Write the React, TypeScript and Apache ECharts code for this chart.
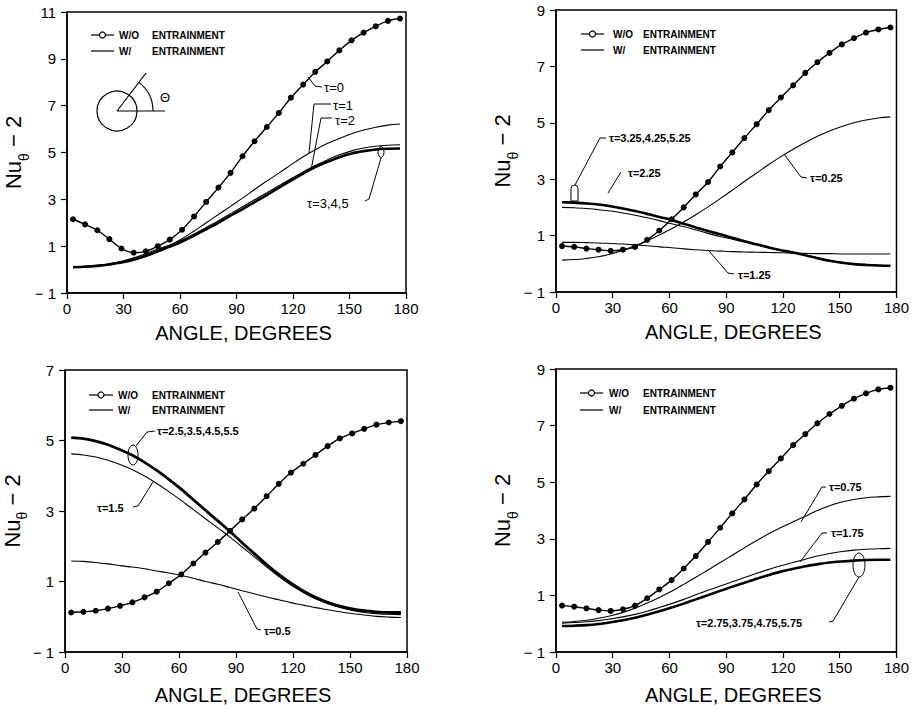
import React, { useEffect, useRef } from "react";
import * as echarts from "echarts";

// Angular positions (degrees) of the computed points
const ANGLES = [3.2, 9.6, 16.1, 22.5, 28.9, 35.4, 41.8, 48.2, 54.6, 61.1, 67.5, 73.9, 80.4, 86.8, 93.2, 99.6, 106.1, 112.5, 118.9, 125.4, 131.8, 138.2, 144.6, 151.1, 157.5, 163.9, 170.4, 176.8];
const X_TICKS_MIN = 0;
const X_TICKS_MAX = 180;
const X_TICK_STEP = 30;

// Panel A (top-left): tau = 0 .. 5
const A_WO = [2.15, 1.93, 1.68, 1.3, 0.9, 0.72, 0.78, 1.0, 1.28, 1.7, 2.27, 2.89, 3.5, 4.13, 4.84, 5.48, 6.09, 6.69, 7.34, 7.9, 8.44, 8.89, 9.36, 9.79, 10.12, 10.39, 10.62, 10.72];
const A_T1 = [0.12, 0.14, 0.18, 0.25, 0.35, 0.5, 0.68, 0.88, 1.05, 1.32, 1.65, 2.0, 2.35, 2.7, 3.05, 3.42, 3.78, 4.12, 4.47, 4.82, 5.12, 5.38, 5.6, 5.8, 5.96, 6.08, 6.17, 6.22];
const A_T2 = [0.11, 0.13, 0.17, 0.23, 0.32, 0.45, 0.62, 0.82, 1.03, 1.26, 1.52, 1.8, 2.09, 2.39, 2.68, 2.98, 3.28, 3.58, 3.88, 4.17, 4.44, 4.68, 4.9, 5.07, 5.19, 5.27, 5.31, 5.33];
const A_T345 = [0.1, 0.12, 0.16, 0.22, 0.3, 0.42, 0.58, 0.78, 0.98, 1.2, 1.45, 1.72, 2.0, 2.3, 2.58, 2.88, 3.18, 3.5, 3.8, 4.1, 4.38, 4.6, 4.8, 4.96, 5.06, 5.13, 5.16, 5.17];

// Panel B (top-right): tau = 0.25 .. 5.25
const B_WO = [0.63, 0.6, 0.54, 0.5, 0.46, 0.5, 0.6, 0.85, 1.18, 1.58, 2.0, 2.46, 2.9, 3.45, 3.95, 4.46, 4.95, 5.45, 5.9, 6.33, 6.77, 7.15, 7.48, 7.78, 8.0, 8.2, 8.31, 8.38];
const B_T025 = [0.13, 0.15, 0.19, 0.25, 0.35, 0.48, 0.64, 0.82, 1.02, 1.24, 1.48, 1.74, 2.02, 2.31, 2.61, 2.92, 3.22, 3.52, 3.8, 4.06, 4.3, 4.52, 4.71, 4.87, 5.0, 5.1, 5.17, 5.21];
const B_T125 = [0.76, 0.76, 0.75, 0.74, 0.72, 0.7, 0.67, 0.64, 0.6, 0.57, 0.53, 0.5, 0.47, 0.45, 0.43, 0.42, 0.41, 0.4, 0.39, 0.38, 0.37, 0.36, 0.36, 0.35, 0.35, 0.35, 0.35, 0.35];
const B_T225 = [2.0, 1.99, 1.96, 1.92, 1.87, 1.8, 1.72, 1.63, 1.53, 1.42, 1.32, 1.2, 1.08, 0.97, 0.87, 0.77, 0.67, 0.57, 0.47, 0.39, 0.3, 0.21, 0.12, 0.05, 0.0, -0.03, -0.05, -0.06];
const B_T325 = [2.18, 2.17, 2.14, 2.1, 2.04, 1.96, 1.87, 1.77, 1.66, 1.55, 1.42, 1.29, 1.16, 1.05, 0.92, 0.8, 0.69, 0.58, 0.48, 0.4, 0.3, 0.2, 0.11, 0.04, -0.01, -0.04, -0.06, -0.07];

// Panel C (bottom-left): tau = 0.5 .. 5.5
const C_WO = [0.12, 0.14, 0.17, 0.23, 0.31, 0.41, 0.55, 0.71, 0.95, 1.2, 1.51, 1.82, 2.12, 2.44, 2.76, 3.07, 3.42, 3.77, 4.09, 4.34, 4.59, 4.84, 5.06, 5.2, 5.33, 5.45, 5.51, 5.55];
const C_T05 = [1.58, 1.57, 1.54, 1.5, 1.45, 1.41, 1.36, 1.3, 1.24, 1.17, 1.09, 1.0, 0.92, 0.83, 0.74, 0.65, 0.56, 0.48, 0.4, 0.33, 0.26, 0.2, 0.14, 0.09, 0.05, 0.01, -0.01, -0.02];
const C_T15 = [4.62, 4.59, 4.53, 4.44, 4.32, 4.17, 3.99, 3.78, 3.55, 3.3, 3.04, 2.78, 2.52, 2.26, 1.98, 1.7, 1.41, 1.14, 0.9, 0.69, 0.51, 0.37, 0.26, 0.18, 0.12, 0.09, 0.07, 0.06];
const C_T25 = [5.08, 5.05, 4.98, 4.88, 4.74, 4.58, 4.38, 4.15, 3.9, 3.62, 3.32, 3.02, 2.72, 2.42, 2.1, 1.79, 1.48, 1.2, 0.95, 0.73, 0.55, 0.41, 0.3, 0.22, 0.17, 0.14, 0.12, 0.12];

// Panel D (bottom-right): tau = 0.75 .. 5.75
const D_WO = [0.64, 0.6, 0.54, 0.48, 0.45, 0.51, 0.64, 0.9, 1.21, 1.54, 1.95, 2.39, 2.89, 3.39, 3.9, 4.39, 4.92, 5.39, 5.84, 6.31, 6.7, 7.08, 7.41, 7.7, 7.95, 8.14, 8.28, 8.34];
const D_T075 = [0.05, 0.08, 0.12, 0.19, 0.28, 0.4, 0.55, 0.73, 0.93, 1.15, 1.39, 1.64, 1.9, 2.16, 2.42, 2.68, 2.94, 3.18, 3.4, 3.6, 3.8, 4.0, 4.17, 4.3, 4.39, 4.45, 4.48, 4.5];
const D_T175 = [0.02, 0.04, 0.07, 0.11, 0.17, 0.24, 0.33, 0.44, 0.57, 0.71, 0.86, 1.02, 1.18, 1.33, 1.48, 1.63, 1.78, 1.92, 2.05, 2.16, 2.28, 2.39, 2.48, 2.55, 2.6, 2.63, 2.65, 2.66];
const D_T275 = [-0.08, -0.07, -0.05, -0.01, 0.05, 0.12, 0.21, 0.32, 0.44, 0.57, 0.71, 0.86, 1.01, 1.16, 1.31, 1.45, 1.59, 1.72, 1.84, 1.94, 2.03, 2.1, 2.16, 2.2, 2.23, 2.25, 2.26, 2.26];

const Y_MAX = [11, 9, 7, 9];
const Y_MIN = -1;
const Y_STEP = 2;

const GRIDS = [
  { left: 67, top: 12, width: 339, height: 281 },
  { left: 556, top: 10, width: 343, height: 282 },
  { left: 65, top: 370, width: 342, height: 282 },
  { left: 556, top: 369, width: 343, height: 283 },
];
const X_NAME_GAP = [30, 30, 33, 33];

const FONT = "'Liberation Sans', Arial, sans-serif";
const BLACK = "#000";

function series(name: string, gi: number, values: number[], width: number, marker = false) {
  return {
    type: "line",
    name,
    xAxisIndex: gi,
    yAxisIndex: gi,
    data: ANGLES.map((a, i) => [a, values[i]]),
    smooth: 0.35,
    symbol: marker ? "circle" : "none",
    showSymbol: marker,
    symbolSize: 6,
    itemStyle: { color: BLACK },
    lineStyle: { color: BLACK, width },
    silent: true,
    z: marker ? 4 : 3,
  };
}

function txt(text: string, x: number, y: number, size = 10, bold = true, align = "left") {
  return {
    type: "text",
    x,
    y,
    z: 100,
    silent: true,
    style: {
      text,
      fill: BLACK,
      font: `${bold ? "bold " : ""}${size}px ${FONT}`,
      align,
      verticalAlign: "middle",
      textAlign: align,
      textVerticalAlign: "middle",
    },
  };
}
function poly(points: number[][], w = 1) {
  return { type: "polyline", z: 100, silent: true, shape: { points }, style: { stroke: BLACK, lineWidth: w, fill: "none" } };
}
function ell(cx: number, cy: number, rx: number, ry: number) {
  return { type: "ellipse", z: 100, silent: true, shape: { cx, cy, rx, ry }, style: { stroke: BLACK, lineWidth: 1, fill: "none" } };
}
function legend(x1: number, x2: number, y1: number, y2: number, tx1: number, tx2: number) {
  return [
    poly([[x1, y1], [x2, y1]], 1.2),
    { type: "circle", z: 101, silent: true, shape: { cx: (x1 + x2) / 2, cy: y1, r: 3 }, style: { fill: "#fff", stroke: BLACK, lineWidth: 1.2 } },
    txt("W/O", tx1, y1),
    txt("ENTRAINMENT", tx2, y1),
    poly([[x1, y2], [x2, y2]], 1.2),
    txt("W/", tx1, y2),
    txt("ENTRAINMENT", tx2, y2),
  ];
}

export default function App() {
  const ref = useRef<HTMLDivElement>(null);
  useEffect(() => {
    if (!ref.current) return;
    const chart = echarts.init(ref.current, undefined, { renderer: "svg" });

    const xAxes = GRIDS.map((_, i) => ({
      gridIndex: i,
      type: "value",
      min: X_TICKS_MIN,
      max: X_TICKS_MAX,
      interval: X_TICK_STEP,
      axisLine: { show: true, onZero: false, lineStyle: { color: BLACK, width: 1.5 } },
      axisTick: { show: true, inside: false, length: 6, lineStyle: { color: BLACK, width: 1.2 } },
      axisLabel: { color: BLACK, fontSize: 15, fontFamily: FONT, margin: 8 },
      splitLine: { show: false },
      name: "ANGLE, DEGREES",
      nameLocation: "middle",
      nameGap: X_NAME_GAP[i],
      nameTextStyle: { color: BLACK, fontSize: 20, fontFamily: FONT, padding: [0, 0, 0, 14] },
    }));
    const yAxes = GRIDS.map((_, i) => ({
      gridIndex: i,
      type: "value",
      min: Y_MIN,
      max: Y_MAX[i],
      interval: Y_STEP,
      axisLine: { show: true, onZero: false, lineStyle: { color: BLACK, width: 1.5 } },
      axisTick: { show: true, inside: false, length: 6, lineStyle: { color: BLACK, width: 1.2 } },
      axisLabel: {
        color: BLACK,
        fontSize: 15,
        fontFamily: FONT,
        margin: 11,
        formatter: (v: number) => (v < 0 ? "\u2212 " + Math.abs(v) : String(v)),
      },
      splitLine: { show: false },
      name: "{a|Nu}{b|\u03b8}{a| \u2212 2}",
      nameLocation: "middle",
      nameRotate: 90,
      nameGap: 36,
      nameTextStyle: {
        color: BLACK,
        rich: {
          a: { fontSize: 22, fontFamily: FONT, color: BLACK, verticalAlign: "bottom", lineHeight: 26 },
          b: { fontSize: 14, fontFamily: FONT, color: BLACK, verticalAlign: "bottom", lineHeight: 26, padding: [0, 0, -6, 0] },
        },
      },
    }));

    const graphics: any[] = [
      // Panel A
      ...legend(91, 114, 35, 51, 119, 152),
      { type: "circle", z: 100, silent: true, shape: { cx: 117, cy: 111, r: 20 }, style: { fill: "none", stroke: BLACK, lineWidth: 1.2 } },
      poly([[117, 111], [165, 111]], 1.2),
      poly([[117, 111], [146, 73]], 1.2),
      { type: "arc", z: 100, silent: true, shape: { cx: 117, cy: 111, r: 36, startAngle: -0.92, endAngle: 0, clockwise: true }, style: { stroke: BLACK, lineWidth: 1.2, fill: "none" } },
      txt("\u0398", 160, 97, 13, false),
      txt("\u03c4=0", 324, 87, 13, false),
      poly([[308, 77], [315, 86], [322, 87]]),
      txt("\u03c4=1", 333, 105, 13, false),
      poly([[331, 104], [314, 104], [309, 153]]),
      txt("\u03c4=2", 335, 120, 13, false),
      poly([[332, 118], [321, 118], [311, 170]]),
      txt("\u03c4=3,4,5", 307, 203, 13, false),
      poly([[365, 201], [369, 199], [381, 158]]),
      ell(381, 152, 3, 5.5),
      // Panel B
      ...legend(581, 604, 34, 50, 613, 643),
      txt("\u03c4=3.25,4.25,5.25", 609, 138, 11),
      poly([[606, 138], [600, 138], [575, 185]]),
      { type: "rect", z: 100, silent: true, shape: { x: 571, y: 185, width: 7, height: 16, r: [3.5, 3.5, 0, 0] }, style: { fill: "none", stroke: BLACK, lineWidth: 1 } },
      txt("\u03c4=2.25", 628, 173, 11),
      poly([[621, 172], [608, 193]]),
      txt("\u03c4=0.25", 810, 178, 11),
      poly([[807, 178], [801, 177], [784, 154]]),
      txt("\u03c4=1.25", 738, 275, 11),
      poly([[734, 274], [728, 273], [709, 251]]),
      // Panel C
      ...legend(89, 113, 395, 410, 118, 152),
      txt("\u03c4=2.5,3.5,4.5,5.5", 157, 431, 11),
      poly([[155, 431], [147, 432], [136, 446]]),
      ell(133, 455, 5, 10),
      txt("\u03c4=1.5", 97, 508, 11),
      poly([[133, 507], [138, 506], [153, 482]]),
      txt("\u03c4=0.5", 264, 631, 11),
      poly([[261, 630], [257, 629], [238, 592]]),
      // Panel D
      ...legend(580, 603, 393, 410, 609, 643),
      txt("\u03c4=0.75", 829, 487, 11),
      poly([[826, 487], [822, 487], [801, 522]]),
      txt("\u03c4=1.75", 831, 533, 11),
      poly([[827, 533], [822, 533], [800, 562]]),
      txt("\u03c4=2.75,3.75,4.75,5.75", 696, 623, 11),
      poly([[829, 622], [833, 621], [859, 577]]),
      ell(859, 565, 6, 12),
    ];

    chart.setOption({
      animation: false,
      backgroundColor: "#fff",
      textStyle: { fontFamily: FONT },
      grid: GRIDS.map((g) => ({ ...g, show: true, borderColor: BLACK, borderWidth: 1.5, backgroundColor: "transparent", containLabel: false })),
      xAxis: xAxes,
      yAxis: yAxes,
      series: [
        series("A W/O entrainment (τ=0)", 0, A_WO, 1.4, true),
        series("A τ=1", 0, A_T1, 1.1),
        series("A τ=2", 0, A_T2, 1.1),
        series("A τ=3,4,5", 0, A_T345, 2.6),
        series("B W/O entrainment", 1, B_WO, 1.4, true),
        series("B τ=0.25", 1, B_T025, 1.1),
        series("B τ=1.25", 1, B_T125, 1.1),
        series("B τ=2.25", 1, B_T225, 1.1),
        series("B τ=3.25,4.25,5.25", 1, B_T325, 2.6),
        series("C W/O entrainment", 2, C_WO, 1.4, true),
        series("C τ=0.5", 2, C_T05, 1.1),
        series("C τ=1.5", 2, C_T15, 1.1),
        series("C τ=2.5,3.5,4.5,5.5", 2, C_T25, 2.8),
        series("D W/O entrainment", 3, D_WO, 1.4, true),
        series("D τ=0.75", 3, D_T075, 1.1),
        series("D τ=1.75", 3, D_T175, 1.1),
        series("D τ=2.75,3.75,4.75,5.75", 3, D_T275, 2.6),
      ],
      graphic: graphics,
    });
    return () => chart.dispose();
  }, []);

  return <div ref={ref} style={{ position: "fixed", left: 0, top: 0, width: 912, height: 710, background: "#fff" }} />;
}
